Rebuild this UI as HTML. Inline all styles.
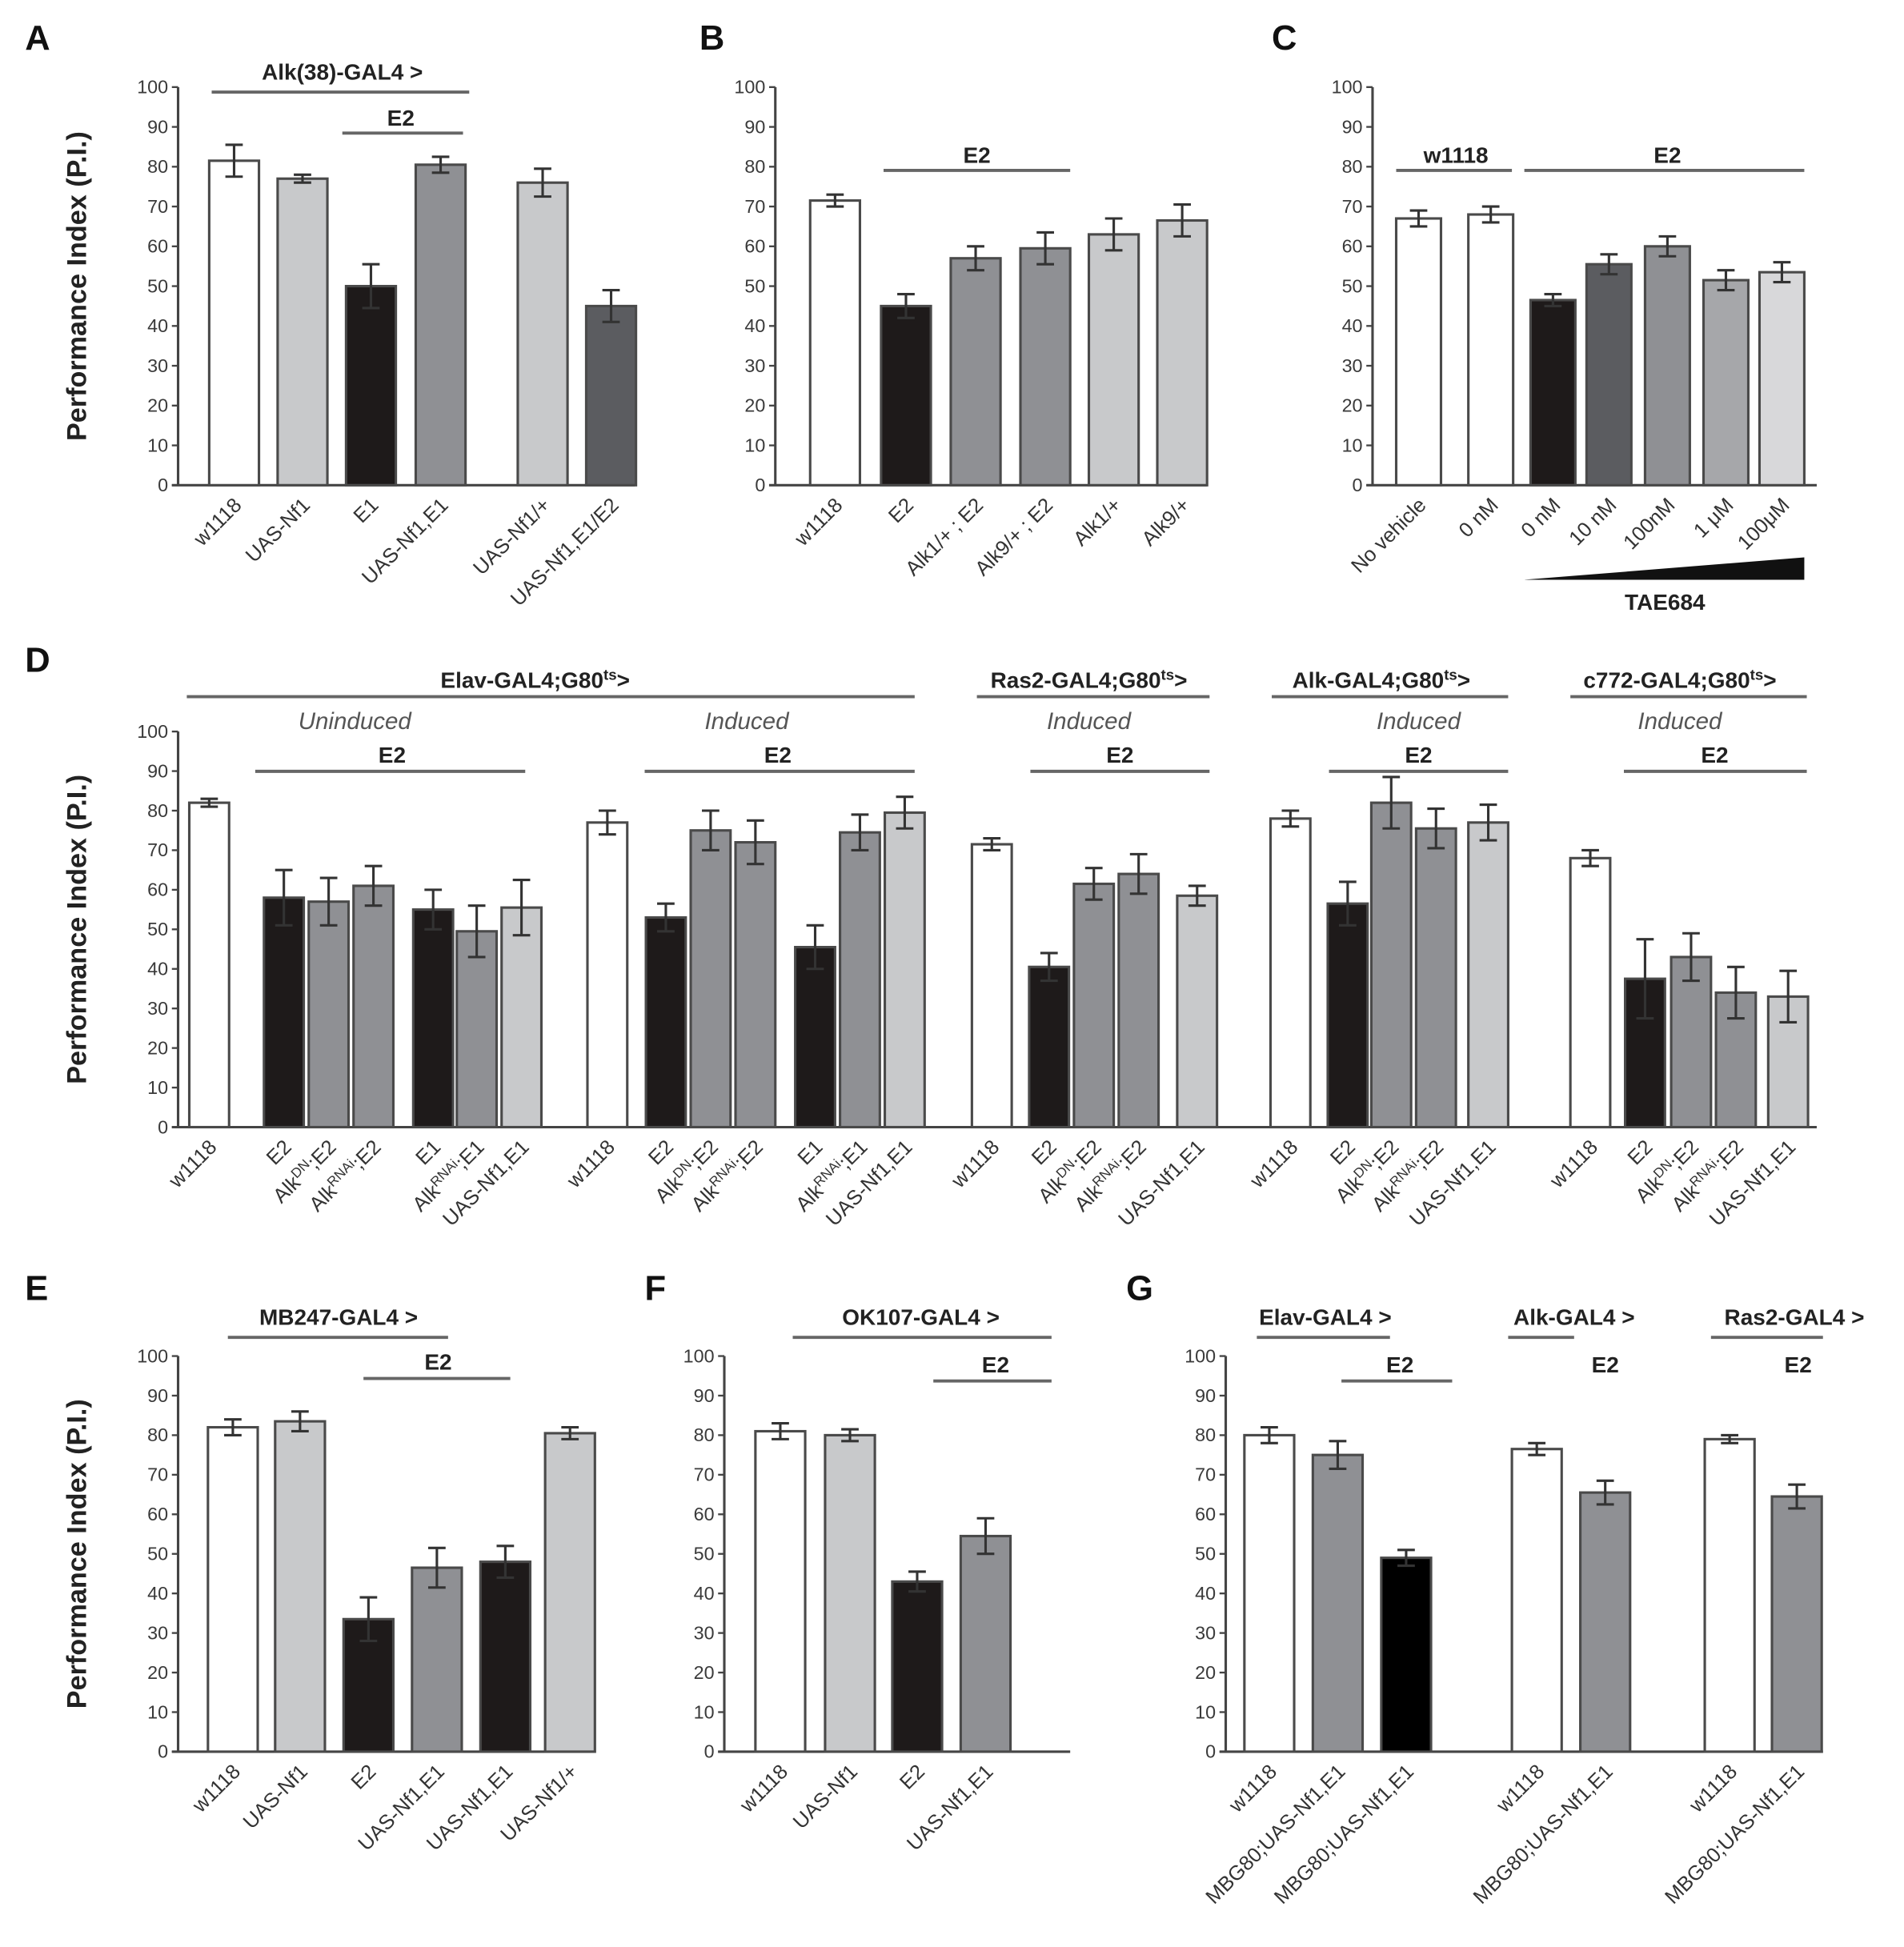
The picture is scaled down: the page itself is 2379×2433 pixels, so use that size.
<!DOCTYPE html>
<html><head><meta charset="utf-8"><style>
html,body{margin:0;padding:0;background:#fff}
svg{display:block}
text{font-family:"Liberation Sans",Arial,sans-serif}
</style></head><body>
<svg id="fig" width="2379" height="2433" viewBox="0 0 1530 1565" xmlns="http://www.w3.org/2000/svg"></svg>
<script>
// ---- data ----
const aCats=["w1118","UAS-Nf1","E1","UAS-Nf1,E1","UAS-Nf1/+","UAS-Nf1,E1/E2"];
const aVals=[81.5,77,50,80.5,76,45];
const aErrs=[4,1,5.5,2,3.5,4];
const bCats=["w1118","E2","Alk1/+ ; E2","Alk9/+ ; E2","Alk1/+","Alk9/+"];
const bVals=[71.5,45,57,59.5,63,66.5];
const bErrs=[1.5,3,3,4,4,4];
const cCats=["No vehicle","0 nM","0 nM","10 nM","100nM","1 μM","100μM"];
const cVals=[67,68,46.5,55.5,60,51.5,53.5];
const cErrs=[2,2,1.5,2.5,2.5,2.5,2.5];
const dCats=["w1118","E2","AlkDN;E2","AlkRNAi;E2","E1","AlkRNAi;E1","UAS-Nf1,E1","w1118","E2","AlkDN;E2","AlkRNAi;E2","E1","AlkRNAi;E1","UAS-Nf1,E1","w1118","E2","AlkDN;E2","AlkRNAi;E2","UAS-Nf1,E1","w1118","E2","AlkDN;E2","AlkRNAi;E2","UAS-Nf1,E1","w1118","E2","AlkDN;E2","AlkRNAi;E2","UAS-Nf1,E1"];
const dVals=[82,58,57,61,55,49.5,55.5,77,53,75,72,45.5,74.5,79.5,71.5,40.5,61.5,64,58.5,78,56.5,82,75.5,77,68,37.5,43,34,33];
const dErrs=[1,7,6,5,5,6.5,7,3,3.5,5,5.5,5.5,4.5,4,1.5,3.5,4,5,2.5,2,5.5,6.5,5,4.5,2,10,6,6.5,6.5];
const eCats=["w1118","UAS-Nf1","E2","UAS-Nf1,E1","UAS-Nf1,E1","UAS-Nf1/+"];
const eVals=[82,83.5,33.5,46.5,48,80.5];
const eErrs=[2,2.5,5.5,5,4,1.5];
const fCats=["w1118","UAS-Nf1","E2","UAS-Nf1,E1"];
const fVals=[81,80,43,54.5];
const fErrs=[2,1.5,2.5,4.5];
const gCats=["w1118","MBG80;UAS-Nf1,E1","MBG80;UAS-Nf1,E1","w1118","MBG80;UAS-Nf1,E1","w1118","MBG80;UAS-Nf1,E1"];
const gVals=[80,75,49,76.5,65.5,79,64.5];
const gErrs=[2,3.5,2,1.5,3,1,3];
const yTicks=[0,10,20,30,40,50,60,70,80,90,100];

// ---- styles / layout ----
const W="#ffffff",L="#c8c9cb",M="#8f9094",K="#1e1a1a",DK="#5b5c60";
const svg=document.getElementById('fig');
const NS="http://www.w3.org/2000/svg";
function mk(tag,attrs,parent){const e=document.createElementNS(NS,tag);for(const k in attrs)e.setAttribute(k,attrs[k]);(parent||svg).appendChild(e);return e;}
function txt(x,y,s,size,opts,parent){const t=mk('text',Object.assign({x:x,y:y,'font-size':size,fill:'#222','text-anchor':'middle'},opts||{}),parent);t.textContent=s;return t;}

function chart(name,cfg,cats,vals,errs){
  const g=mk('g',{});
  
  
  const ys=v=>cfg.y0-(cfg.y0-cfg.y100)*v/100;
  const ax=mk('line',{x1:cfg.ax,y1:cfg.y100,x2:cfg.ax,y2:cfg.y0,stroke:'#444','stroke-width':2},g);
  
  
  const bx=mk('line',{x1:cfg.ax-5,y1:cfg.y0,x2:cfg.xEnd,y2:cfg.y0,stroke:'#444','stroke-width':2},g);
  
  
  yTicks.forEach(v=>{
    mk('line',{x1:cfg.ax-5,y1:ys(v),x2:cfg.ax,y2:ys(v),stroke:'#444','stroke-width':1.5},g);
    const t=txt(cfg.ax-8,ys(v)+5,String(v),15,{'text-anchor':'end',fill:'#3a3a3a'},g);
    
    
  });
  if(cfg.title){
    const t=txt(0,0,"Performance Index (P.I.)",22,{'font-weight':'bold',transform:`translate(${cfg.ax-74},${(cfg.y0+cfg.y100)/2}) rotate(-90)`},g);
    
    
  }
  vals.forEach((v,i)=>{
    const cx=cfg.cx[i],w=cfg.bw;
    const r=mk('rect',{x:cx-w/2,y:ys(v),width:w,height:cfg.y0-ys(v),fill:cfg.col[i],stroke:'#4a4a4a','stroke-width':2},g);
    
    
    const e=errs[i];
    const eb=mk('path',{d:`M${cx},${ys(v+e)}V${ys(v-e)}M${cx-7},${ys(v+e)}H${cx+7}M${cx-7},${ys(v-e)}H${cx+7}`,stroke:'#333','stroke-width':2,fill:'none'},g);
    
    
    const lx=cx+7,ly=cfg.y0+17;
    const t=mk('text',{x:lx,y:ly,'font-size':16.5,fill:'#333','text-anchor':'end',transform:`rotate(-45 ${lx} ${ly})`},g);
    const m=cats[i].match(/^Alk(DN|RNAi)(;.*)$/);
    if(m){
      t.appendChild(document.createTextNode('Alk'));
      const s=document.createElementNS(NS,'tspan');s.setAttribute('baseline-shift','super');s.setAttribute('font-size','11');s.textContent=m[1];t.appendChild(s);
      const r2=document.createElementNS(NS,'tspan');r2.textContent=m[2];t.appendChild(r2);
    } else t.textContent=cats[i];
    
    
  });
  return g;
}
function hdr(name,x,y,s,x1,x2,ly,opts){
  const t=txt(x,y,s,18,Object.assign({'font-weight':'bold'},opts||{}));
  
  
  if(x1!=null){const l=mk('line',{x1:x1,y1:ly,x2:x2,y2:ly,stroke:'#666','stroke-width':2.5});
    
    }
  return t;
}
function plabel(s,x,y){const t=txt(x,y,s,28,{'font-weight':'bold','text-anchor':'start',fill:'#111'});
  
  }

// Panel A
plabel('A',20,40);
chart('panel-a',{ax:143,y0:390,y100:70,xEnd:510,bw:40,title:true,cx:[188,243,298,354,436,491],col:[W,L,K,M,L,DK]},aCats,aVals,aErrs);
hdr('alk38-gal4',275,64,'Alk(38)-GAL4 >',170,377,74);
hdr('a-e2',322,101,'E2',275,372,107);
// Panel B
plabel('B',562,40);
chart('panel-b',{ax:623,y0:390,y100:70,xEnd:970,bw:40,title:false,cx:[671,728,784,840,895,950],col:[W,K,M,M,L,L]},bCats,bVals,bErrs);
hdr('b-e2',785,131,'E2',710,860,137);
// Panel C
plabel('C',1022,40);
chart('panel-c',{ax:1103,y0:390,y100:70,xEnd:1460,bw:36,title:false,cx:[1140,1198,1248,1293,1340,1387,1432],col:[W,W,K,DK,M,"#a6a7aa","#d8d8da"]},cCats,cVals,cErrs);
hdr('c-w1118',1170,131,'w1118',1122,1215,137);
hdr('c-e2',1340,131,'E2',1225,1450,137);
const tri=mk('polygon',{points:'1225,466 1450,448 1450,466',fill:'#111'});


hdr('tae684',1338,490,'TAE684',null);
// Panel D
plabel('D',20,540);
chart('panel-d',{ax:143,y0:906,y100:588,xEnd:1460,bw:32,title:true,
 cx:[168,228,264,300,348,383,419,488,535,571,607,655,691,727,797,843,879,915,962,1037,1083,1118,1154,1196,1278,1322,1359,1395,1437],
 col:[W,K,M,M,K,M,L,W,K,M,M,K,M,L,W,K,M,M,L,W,K,M,M,L,W,K,M,M,L]},dCats,dVals,dErrs);
function gts(name,x,y,pre,x1,x2){const t=hdr(name,x,y,pre,x1,x2,560);
  const s=document.createElementNS(NS,'tspan');s.setAttribute('baseline-shift','super');s.setAttribute('font-size','12');s.textContent='ts';t.appendChild(s);
  const r=document.createElementNS(NS,'tspan');r.textContent='>';t.appendChild(r);}
gts('elav-gal4-g80',430,553,'Elav-GAL4;G80',150,735);
gts('ras2-gal4-g80',875,553,'Ras2-GAL4;G80',785,972);
gts('alk-gal4-g80',1110,553,'Alk-GAL4;G80',1022,1212);
gts('c772-gal4-g80',1350,553,'c772-GAL4;G80',1262,1452);
[[285,'uninduced'],[600,'induced-elav'],[875,'induced-ras2'],[1140,'induced-alk'],[1350,'induced-c772']].forEach((p,i)=>{
  const t=txt(p[0],586,i==0?'Uninduced':'Induced',19,{'font-style':'italic',fill:'#555'});
  
  
});
hdr('d-e2-1',315,613,'E2',205,422,620);
hdr('d-e2-2',625,613,'E2',518,735,620);
hdr('d-e2-3',900,613,'E2',828,972,620);
hdr('d-e2-4',1140,613,'E2',1068,1212,620);
hdr('d-e2-5',1378,613,'E2',1305,1452,620);
// Panel E
plabel('E',20,1045);
chart('panel-e',{ax:143,y0:1408,y100:1090,xEnd:475,bw:40,title:true,cx:[187,241,296,351,406,458],col:[W,L,K,M,K,L]},eCats,eVals,eErrs);
hdr('mb247-gal4',272,1065,'MB247-GAL4 >',183,360,1075);
hdr('e-e2',352,1101,'E2',292,410,1108);
// Panel F
plabel('F',518,1045);
chart('panel-f',{ax:582,y0:1408,y100:1090,xEnd:860,bw:40,title:false,cx:[627,683,737,792],col:[W,L,K,M]},fCats,fVals,fErrs);
hdr('ok107-gal4',740,1065,'OK107-GAL4 >',637,845,1075);
hdr('f-e2',800,1103,'E2',750,845,1110);
// Panel G
plabel('G',905,1045);
chart('panel-g',{ax:985,y0:1408,y100:1090,xEnd:1465,bw:40,title:false,cx:[1020,1075,1130,1235,1290,1390,1444],col:[W,M,"#000",W,M,W,M]},gCats,gVals,gErrs);
hdr('elav-gal4',1065,1065,'Elav-GAL4 >',1010,1117,1075);
hdr('g-e2-1',1125,1103,'E2',1078,1167,1110);
hdr('alk-gal4',1265,1065,'Alk-GAL4 >',1212,1265,1075);
hdr('g-e2-2',1290,1103,'E2',null);
hdr('ras2-gal4',1442,1065,'Ras2-GAL4 >',1375,1465,1075);
hdr('g-e2-3',1445,1103,'E2',null);
</script>
</body></html>
